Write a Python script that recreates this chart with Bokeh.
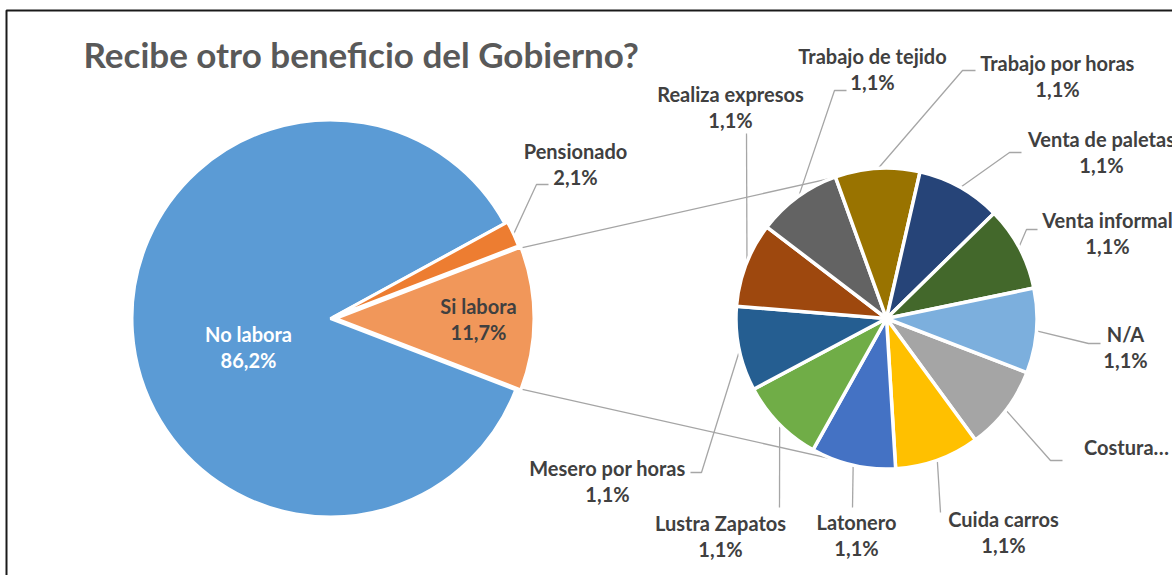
import math
from bokeh.plotting import figure
from bokeh.models import Range1d, ColumnDataSource
from bokeh.core.properties import value
from bokeh.embed import file_html
from bokeh.resources import INLINE

# ---------------- data ----------------
title_text = "Recibe otro beneficio del Gobierno?"

main_labels = ["No labora", "Pensionado", "Si labora"]
main_values = [86.2, 2.1, 11.7]
main_colors = ["#5B9BD5", "#ED7D31", "#F1975A"]

sub_labels = ["Costura…", "Cuida carros", "Latonero", "Lustra Zapatos",
              "Mesero por horas", "Realiza expresos", "Trabajo de tejido",
              "Trabajo por horas", "Venta de paletas", "Venta informal", "N/A"]
sub_values = [1.1, 1.1, 1.1, 1.1, 1.1, 1.1, 1.1, 1.1, 1.1, 1.1, 1.1]
sub_colors = ["#A5A5A5", "#FFC000", "#4472C4", "#70AD47", "#255E91", "#9E480E",
              "#636363", "#997300", "#264478", "#43682B", "#7CAFDD"]

# ---------------- layout (page pixel coordinates) ----------------
W, H = 1172, 575
FONT = "Lato"
LBL_SIZE = "20px"
LINE_GAP = 26

main_c = (330, 318)
main_r = 198.5
explode = {"Pensionado": 3, "Si labora": 5}
sub_c = (886, 318)
sub_r = 150.5

main_lbl_pos = {"No labora": (248, 333, "white"),
                "Pensionado": (575, 150, "#404040"),
                "Si labora": (478, 305, "#404040")}
main_leader = {"Pensionado": [(536, 184), (548, 184)]}

sub_lbl_pos = {
    "Costura…": (1126, 446), "Cuida carros": (1003, 518), "Latonero": (856, 521),
    "Lustra Zapatos": (720, 522), "Mesero por horas": (607, 467),
    "Realiza expresos": (730, 93), "Trabajo de tejido": (872, 55),
    "Trabajo por horas": (1057, 62), "Venta de paletas": (1101, 138),
    "Venta informal": (1107, 219), "N/A": (1125, 333)}
sub_leader = {
    "Costura…": [(1050, 460), (1062, 460)], "Cuida carros": [(940, 512)],
    "Latonero": [(852, 507)], "Lustra Zapatos": [(779, 507)],
    "Mesero por horas": [(701, 472), (690, 472)], "Realiza expresos": [(746, 133)],
    "Trabajo de tejido": [(834, 90), (846, 90)], "Trabajo por horas": [(962, 70), (975, 70)],
    "Venta de paletas": [(1009, 152), (1021, 152)], "Venta informal": [(1026, 229), (1037, 229)],
    "N/A": [(1088, 343), (1100, 343)]}
no_pct = {"Costura…"}


def pct(v):
    return f"{v:.1f}".replace(".", ",") + "%"


def Y(y):  # page y (down) -> data y (up)
    return -y


p = figure(width=W, height=H, x_range=Range1d(0, W), y_range=Range1d(-H, 0),
           output_backend="svg", toolbar_location=None,
           x_axis_location=None, y_axis_location=None, min_border=0)
p.outline_line_color = None
p.grid.visible = False
p.background_fill_color = "white"

# border of chart area
p.line(x=[6, 6, W], y=[Y(H), Y(10), Y(10)], line_color="#1a1a1a", line_width=2)

# ---------------- main pie angles (clockwise in data order, "other" centred at 0) ----------------
tot = sum(main_values)
spans = [v / tot * 2 * math.pi for v in main_values]
a = -spans[-1] / 2
m_start, m_end, m_mid = [], [], []
for s in spans:
    m_end.append(a)
    m_start.append(a - s)
    m_mid.append(a - s / 2)
    a -= s

mx, my = [], []
for lab, mid in zip(main_labels, m_mid):
    e = explode.get(lab, 0)
    mx.append(main_c[0] + e * math.cos(mid))
    my.append(Y(main_c[1]) + e * math.sin(mid))

# ---------------- sub pie angles ----------------
stot = sum(sub_values)
sspans = [v / stot * 2 * math.pi for v in sub_values]
a = -spans[-1] / 2
s_start, s_end, s_mid = [], [], []
for s in sspans:
    s_end.append(a)
    s_start.append(a - s)
    s_mid.append(a - s / 2)
    a -= s

# ---------------- connector lines (tangents from "other" slice corners) ----------------
oi = len(main_labels) - 1
vis_r = main_r - 1.5
for corner_ang, sign in ((m_end[oi], 1), (m_start[oi], -1)):
    px = mx[oi] + vis_r * math.cos(corner_ang)
    py = my[oi] + vis_r * math.sin(corner_ang)
    dx, dy = px - sub_c[0], py - Y(sub_c[1])
    d = math.hypot(dx, dy)
    base = math.atan2(dy, dx)
    t = base - sign * math.acos((sub_r - 1.5) / d)
    tx = sub_c[0] + (sub_r - 1.5) * math.cos(t)
    ty = Y(sub_c[1]) + (sub_r - 1.5) * math.sin(t)
    p.line([px + 3, tx], [py, ty], line_color="#A5A5A5", line_width=1.3)

# ---------------- leader lines ----------------
for i, lab in enumerate(main_labels):
    if lab in main_leader:
        rx = mx[i] + (vis_r + 2) * math.cos(m_mid[i])
        ry = my[i] + (vis_r + 2) * math.sin(m_mid[i])
        pts = main_leader[lab]
        p.line([rx] + [q[0] for q in pts], [ry] + [Y(q[1]) for q in pts],
               line_color="#A6A6A6", line_width=1.3)
for i, lab in enumerate(sub_labels):
    rx = sub_c[0] + (sub_r - 1) * math.cos(s_mid[i])
    ry = Y(sub_c[1]) + (sub_r - 1) * math.sin(s_mid[i])
    pts = sub_leader[lab]
    p.line([rx] + [q[0] for q in pts], [ry] + [Y(q[1]) for q in pts],
           line_color="#A6A6A6", line_width=1.3)

# ---------------- wedges ----------------
msrc = ColumnDataSource(dict(x=mx, y=my, s=m_start, e=m_end, c=main_colors))
p.wedge(x="x", y="y", radius=main_r, start_angle="s", end_angle="e", fill_color="c",
        line_color="white", line_width=3, source=msrc)
ssrc = ColumnDataSource(dict(x=[sub_c[0]] * len(sub_labels), y=[Y(sub_c[1])] * len(sub_labels),
                             s=s_start, e=s_end, c=sub_colors))
p.wedge(x="x", y="y", radius=sub_r, start_angle="s", end_angle="e", fill_color="c",
        line_color="white", line_width=3.5, source=ssrc)

# ---------------- labels ----------------
tx, ty, tt, tc = [], [], [], []
for lab, v in zip(main_labels, main_values):
    cx, cy, col = main_lbl_pos[lab]
    tx += [cx, cx]; ty += [Y(cy), Y(cy + LINE_GAP)]; tt += [lab, pct(v)]; tc += [col, col]
for lab, v in zip(sub_labels, sub_values):
    cx, cy = sub_lbl_pos[lab]
    tx.append(cx); ty.append(Y(cy)); tt.append(lab); tc.append("#404040")
    if lab not in no_pct:
        tx.append(cx); ty.append(Y(cy + LINE_GAP)); tt.append(pct(v)); tc.append("#404040")
tsrc = ColumnDataSource(dict(x=tx, y=ty, t=tt, c=tc))
p.text(x="x", y="y", text="t", text_color="c", source=tsrc, text_font=value(FONT),
       text_font_style="bold", text_font_size=LBL_SIZE, text_align="center",
       text_baseline="middle")

p.text(x=[83], y=[Y(53)], text=[title_text], text_font=value(FONT), text_font_style="bold",
       text_font_size="35px", text_color="#595959", text_align="left", text_baseline="middle")

open("out.html", "w").write(file_html(p, INLINE))
